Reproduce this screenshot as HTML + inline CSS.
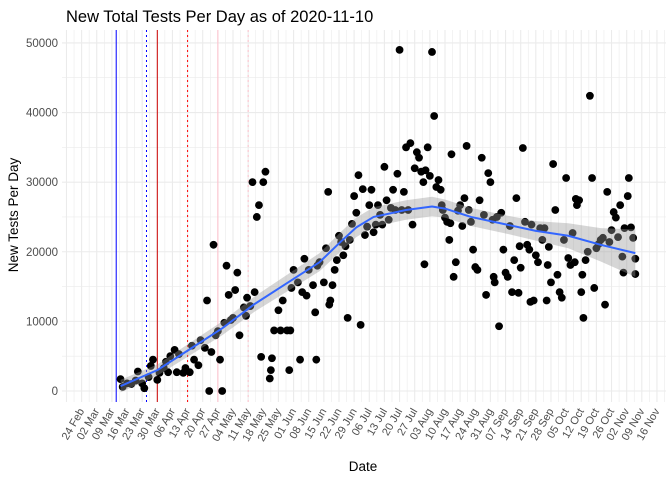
<!DOCTYPE html>
<html><head><meta charset="utf-8"><style>
body{margin:0;background:#fff;}
svg text{font-family:"Liberation Sans",Arial,sans-serif;}
</style></head><body>
<svg id="chart" width="672" height="480" xmlns="http://www.w3.org/2000/svg">
<text x="66" y="22" font-size="16.5" fill="#000">New Total Tests Per Day as of 2020-11-10</text>
<text transform="translate(18,215) rotate(-90)" text-anchor="middle" font-size="13.5" fill="#000">New Tests Per Day</text>
<text x="363" y="471" text-anchor="middle" font-size="13.5" fill="#000">Date</text>
<g id="grid"></g><g id="vlines"></g><g id="pts"></g><g id="smooth"></g><g id="axes"></g>
</svg>
<script>
// days since 24 Feb 2020
const days=[18,19,21,23,25,26,28,29,31,32,33,35,36,38,39,40,41,43,44,45,47,48,50,51,52,54,55,57,58,59,60,61,62,63,64,65,66,67,68,69,70,71,72,73,75,76,76.5,78,79,80,81,82,83,84,85,87,87.5,88,89,91,92,93,95,96,96.5,97,98,100,101,102,103,104,105,107,108,108.5,109,110,112,113,114,114.5,115,116,117,118,119,120,121,122,123,124,125,126,127,128,129,130,131,132,133,134,135,136,137,138,139,140,141,142,143,144,145,146,147,148,149,150,151,152,153,154,155,156,157,158,158.5,159,160,161,162,163,164,165,166,166.5,167,168,169,170,170.5,171,172,173,174,175,176,177,178,179,180,181,182,183,184,185,186,187,188,189,190,190.5,191,192,193,194,195,196,197,198,199,200,201,202,202.5,203,204,205,206,207,207.5,208,209,210,211,212,213,214,215,215.5,216,217,218,219,220,221,222,223,224,225,226,227,228,228.5,229,230,231,231.5,232,233,234,235,236,237,238,239,240,241,242,243,244,245,246,247,248,249,250,250.5,251,252.5,253,254,255,256,256];
const tests=[1700,600,1100,1000,1500,2800,1100,400,2000,3600,4500,1600,2600,3300,4200,2700,5000,5900,2700,5300,2600,3300,2700,6500,4500,3700,7300,6200,13000,0,5600,21000,8000,8600,4500,0,9800,18000,13800,10200,10500,14500,17000,8000,12000,10800,13400,12200,30000,14200,25000,26700,4900,30000,31500,1800,3000,4700,8700,11600,8700,13000,8700,3000,8700,14800,17400,15600,4500,14200,19000,13700,17400,15200,11300,4500,18000,18500,15600,20500,28600,12400,13000,15200,17400,18800,22300,21400,19500,20800,10500,21700,24000,28000,25600,31000,9500,29000,22400,23600,26700,28900,22800,23900,26700,25300,23900,32200,27400,24600,26300,28900,26000,31200,49000,26000,28600,35000,26000,35600,23900,32000,34300,33500,31500,30000,18200,31700,35000,30900,48700,39500,29300,30300,28900,26700,26000,24900,24300,21700,24100,34000,16400,18500,25900,26700,23700,27700,35200,26000,24300,20300,17800,17400,27400,33500,25300,13800,31300,30000,24600,16400,15600,25000,9300,25600,20300,17000,16400,23700,14200,18800,27700,14100,20800,17700,34900,24300,21000,20300,12800,23900,13000,19500,18500,23400,21700,23400,13000,18100,20700,15600,32600,26000,16700,14200,13400,21700,30600,19100,18100,22700,18500,27600,26700,27400,14200,16700,10500,18800,20000,42400,30600,14800,20500,21100,21700,22000,12400,28600,21400,23100,25700,24900,22100,26700,19300,17000,23400,28000,30600,23500,22000,19000,16800];
const smoothDays=[18,35,50,65,80,95,110,120,127,135,150,162,168,180,195,210,225,240,256];
const smoothVals=[700,3000,6000,9000,12500,15500,18500,21500,23500,25000,26000,26500,26200,25000,24000,23000,22300,21000,19800];
const smoothSE=[900,800,900,1000,1100,1200,1300,1400,1400,1400,1400,1400,1300,1300,1300,1400,1800,2400,3400];
const eventDays=[16,30,35,49,63,77];
const eventColors=['#0000ff','#0000ff','#cc0000','#ff0000','#ffc0cb','#ffc0cb'];
const eventDash=['','2,3','','2,3','','2,3'];
const yTicks=[0,10000,20000,30000,40000,50000];
const months=['Jan','Feb','Mar','Apr','May','Jun','Jul','Aug','Sep','Oct','Nov','Dec'];

const NS='http://www.w3.org/2000/svg';
const X0=81.6,PXD=2.163,Y0=391,PXV=0.006962;
const L=62,R=666,T=30,B=402;
const x=d=>X0+d*PXD, y=v=>Y0-v*PXV;
function mk(tag,attrs,parent){const e=document.createElementNS(NS,tag);for(const k in attrs)e.setAttribute(k,attrs[k]);parent.appendChild(e);return e;}
const grid=document.getElementById('grid'),axes=document.getElementById('axes');
for(let v=0;v<=55000;v+=5000){const yy=y(v);if(yy<T)continue;
 const ln=mk('line',{x1:L,x2:R,y1:yy,y2:yy,stroke:'#ebebeb','stroke-width':v%10000?0.6:1.1},grid);
 
 }
for(let d=-7;d<=270;d+=3.5){const xx=x(d);if(xx<L||xx>R)continue;
 const ln=mk('line',{x1:xx,x2:xx,y1:T,y2:B,stroke:'#ebebeb','stroke-width':(d%7===0)?1.1:0.6},grid);
 
 }
yTicks.forEach(v=>{const t=mk('text',{x:58,y:y(v)+4,'text-anchor':'end','font-size':11.5,fill:'#4d4d4d'},axes);t.textContent=v;
 
 });
const base=new Date(2020,1,24);
for(let w=0;w<=38;w++){const dt=new Date(base.getTime()+w*7*86400000+3600000*12);
 const lab=String(dt.getDate()).padStart(2,'0')+' '+months[dt.getMonth()];
 const xx=x(w*7);
 const t=mk('text',{transform:`translate(${xx+3},${411}) rotate(-60)`,'text-anchor':'end','font-size':11,fill:'#4d4d4d'},axes);t.textContent=lab;
 
 }
const vl=document.getElementById('vlines');
eventDays.forEach((d,i)=>{const ln=mk('line',{x1:x(d),x2:x(d),y1:T,y2:B,stroke:eventColors[i],'stroke-width':1,'stroke-dasharray':eventDash[i]},vl);
 
 });
const pg=document.getElementById('pts');
days.forEach((d,i)=>{const c=mk('circle',{cx:x(d),cy:y(tests[i]),r:3.9,fill:'#000'},pg);
 
 });
const sg=document.getElementById('smooth');
let up=smoothDays.map((d,i)=>`${x(d)},${y(smoothVals[i]+smoothSE[i])}`);
let lo=smoothDays.map((d,i)=>`${x(d)},${y(smoothVals[i]-smoothSE[i])}`).reverse();
const band=mk('polygon',{points:up.concat(lo).join(' '),fill:'#999','fill-opacity':0.4},sg);


const line=mk('polyline',{points:smoothDays.map((d,i)=>`${x(d)},${y(smoothVals[i])}`).join(' '),fill:'none',stroke:'#3366ff','stroke-width':2,'stroke-linejoin':'round'},sg);


</script>
</body></html>
